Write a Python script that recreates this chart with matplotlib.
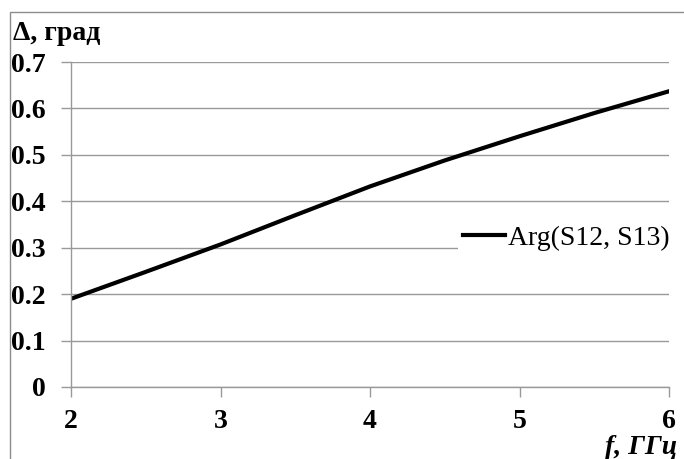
import matplotlib

matplotlib.use("Agg")
import matplotlib.pyplot as plt
from matplotlib.patches import Rectangle

# phase difference Arg(S12, S13) vs frequency
freq = [2.0, 2.5, 3.0, 3.5, 4.0, 4.5, 5.0, 5.5, 6.0]
delta = [0.190, 0.248, 0.307, 0.370, 0.432, 0.488, 0.540, 0.590, 0.637]
x_ticks = [2, 3, 4, 5, 6]
y_ticks = [0, 0.1, 0.2, 0.3, 0.4, 0.5, 0.6, 0.7]
y_tick_labels = ["0", "0.1", "0.2", "0.3", "0.4", "0.5", "0.6", "0.7"]

plt.rcParams["font.family"] = ["Liberation Serif", "DejaVu Serif"]

W, H = 684, 459
fig = plt.figure(figsize=(W / 100, H / 100), dpi=100)
ax = fig.add_axes([71 / W, 1 - 387 / H, (669 - 71) / W, (387 - 62) / H])

# outer frame (Excel chart area), clipped by the image edges
fig.patches.append(Rectangle((10 / W, -0.1), 1.2, 1 - 12 / H + 0.1,
                             transform=fig.transFigure, fill=False,
                             edgecolor="#8c8c8c", linewidth=1.0))

ax.plot(freq, delta, color="black", linewidth=3.0, label="Arg(S12, S13)")

ax.set_xlim(2, 6)
ax.set_ylim(0, 0.7)
ax.set_xticks(x_ticks)
ax.set_yticks(y_ticks)
ax.set_yticklabels(y_tick_labels)
ax.grid(axis="y", color="#999999", linewidth=1.0)
ax.set_axisbelow(True)
for s in ["top", "right"]:
    ax.spines[s].set_visible(False)
for s in ["left", "bottom"]:
    ax.spines[s].set_color("#999999")
    ax.spines[s].set_linewidth(1.0)
ax.tick_params(axis="both", direction="out", length=7, width=1.0, color="#999999",
               labelsize=20)
ax.tick_params(axis="y", pad=11)
ax.tick_params(axis="x", pad=9)
for lbl in ax.get_xticklabels() + ax.get_yticklabels():
    lbl.set_fontweight("bold")

fig.text(13 / W, 1 - 33 / H, "Δ, град", fontsize=20, fontweight="bold",
         ha="left", va="center")
fig.text(677 / W, 1 - 447 / H, "f, ГГц", fontsize=20, fontweight="bold",
         fontstyle="italic", ha="right", va="center")

leg = ax.legend(loc="center right", bbox_to_anchor=(1.01, 0.458), frameon=True,
                fontsize=20, handlelength=1.5, handletextpad=0.1,
                borderpad=0.2, borderaxespad=0.0)
leg.get_frame().set_edgecolor("none")
leg.get_frame().set_facecolor("white")
leg.get_frame().set_alpha(1.0)

fig.savefig("out.png", dpi=100)
